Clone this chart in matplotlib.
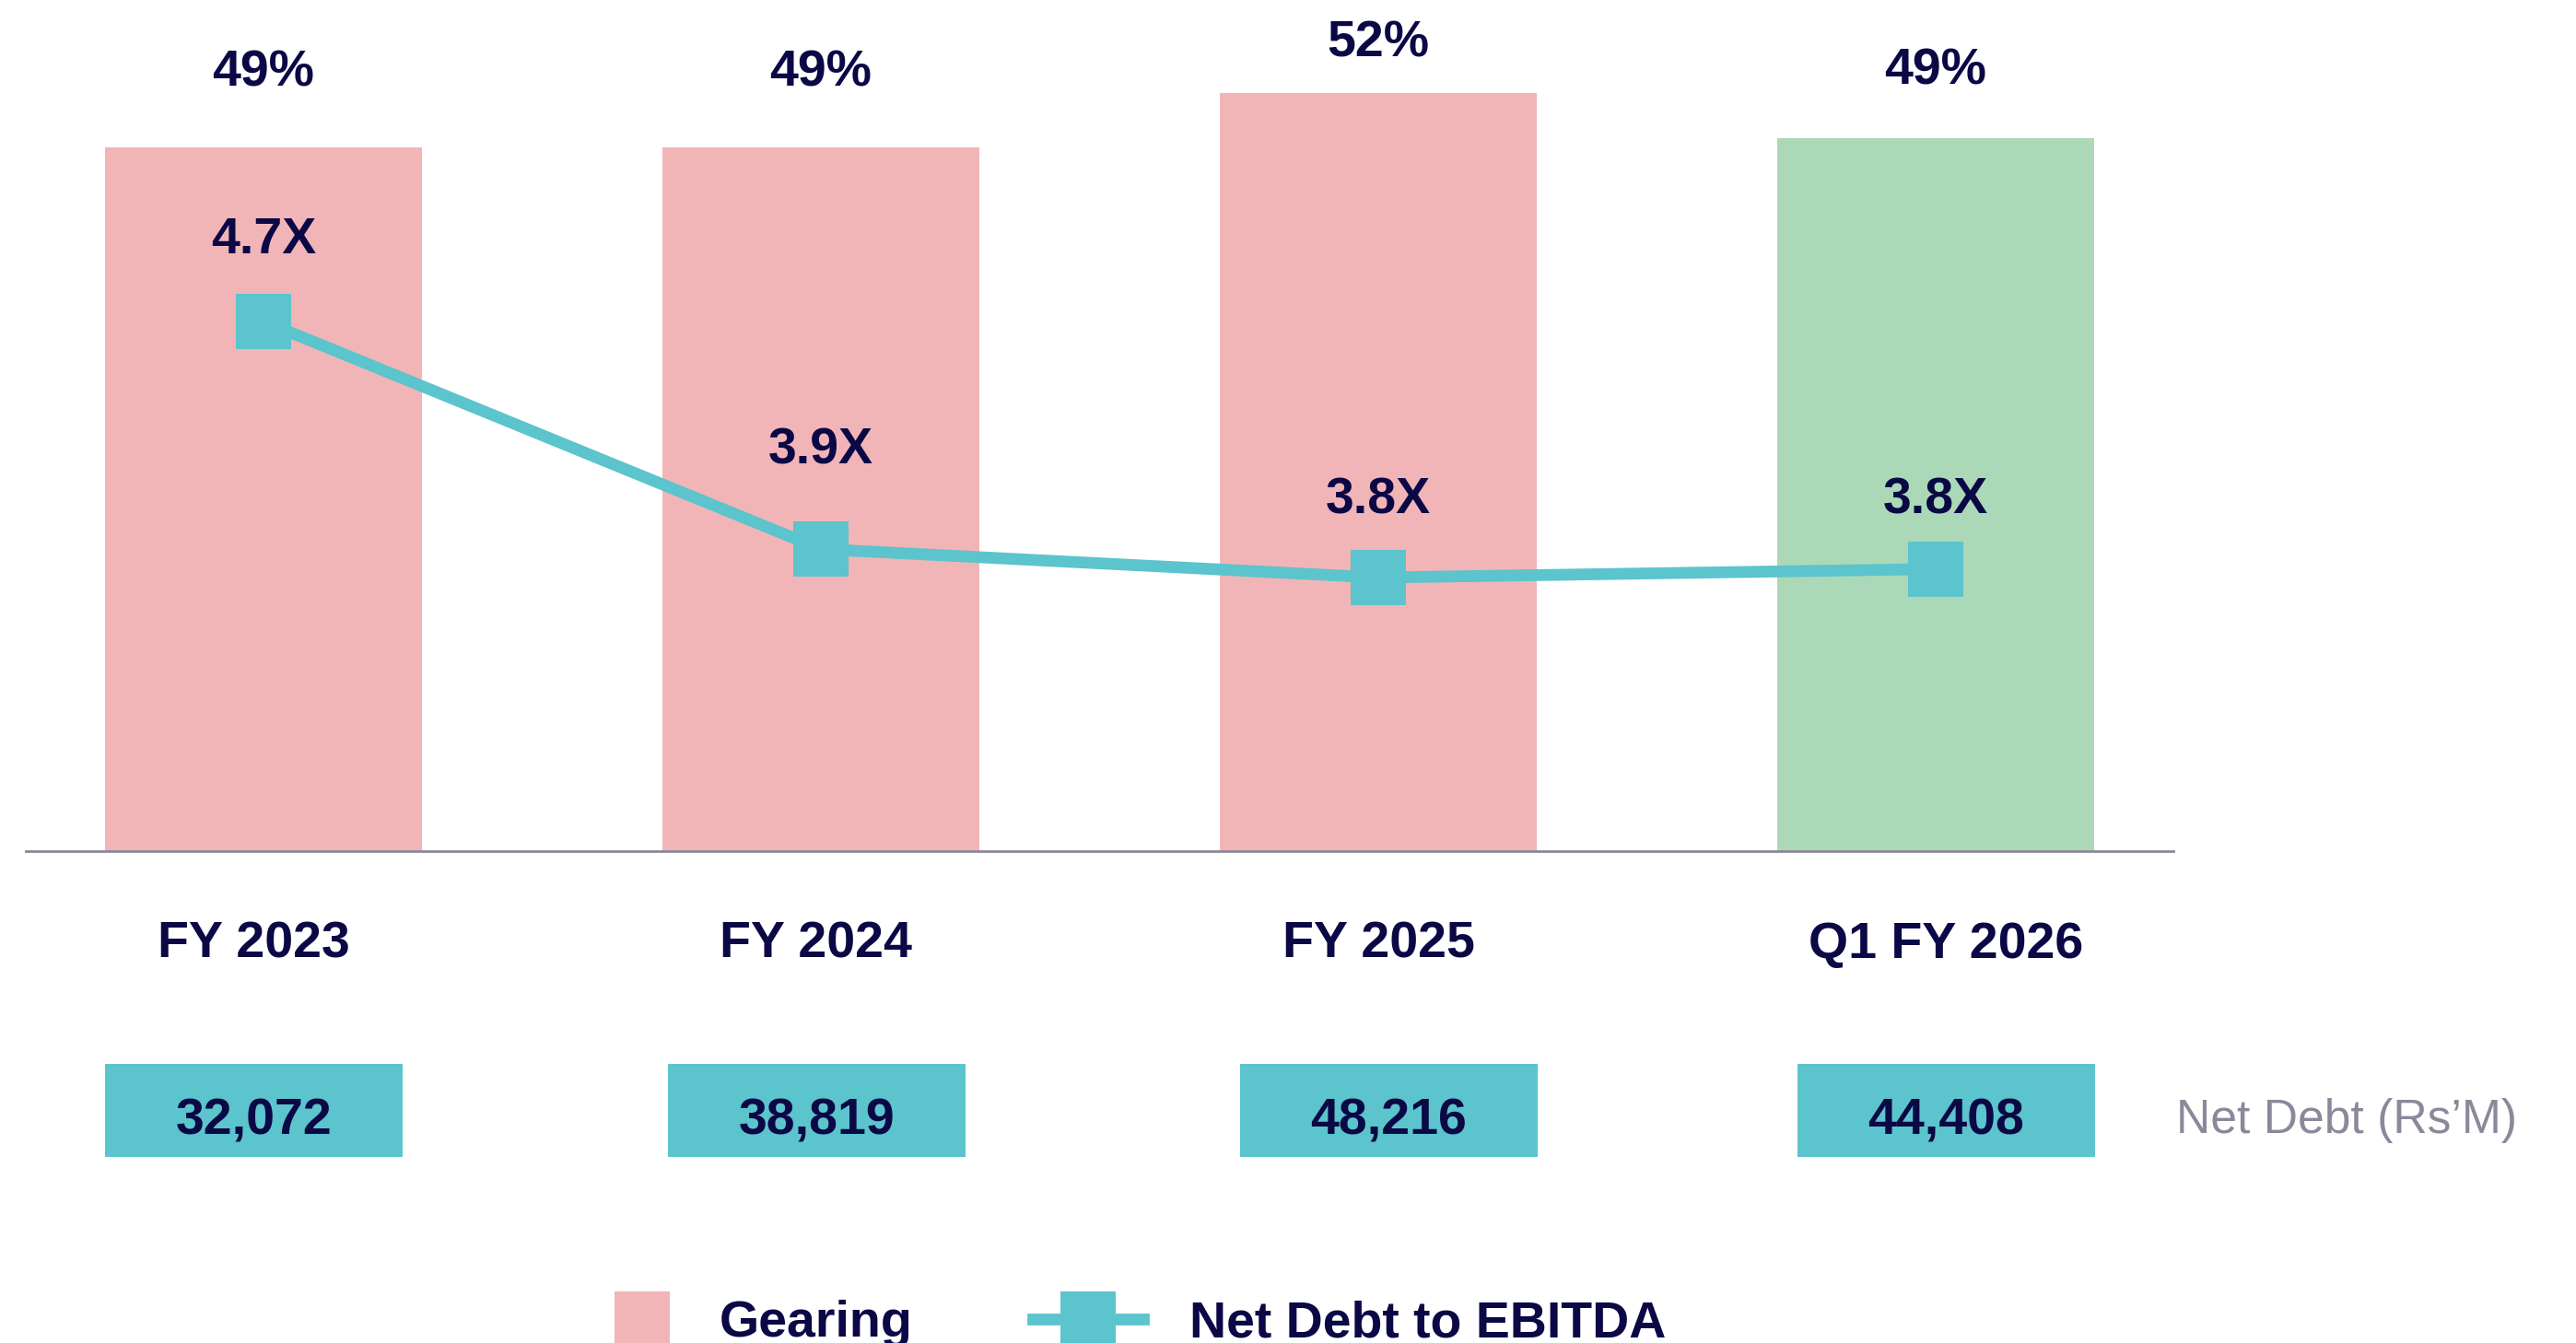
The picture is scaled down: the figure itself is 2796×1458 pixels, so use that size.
import matplotlib
matplotlib.use("Agg")
import matplotlib.pyplot as plt
from matplotlib.patches import Rectangle
from matplotlib.lines import Line2D

# ---------------- data ----------------
categories = ["FY 2023", "FY 2024", "FY 2025", "Q1 FY 2026"]
gearing = [48.3, 48.3, 52.0, 48.9]
gearing_labels = ["49%", "49%", "52%", "49%"]
net_debt_ebitda = [4.7, 3.9, 3.8, 3.83]
ratio_labels = ["4.7X", "3.9X", "3.8X", "3.8X"]
net_debt = [32072, 38819, 48216, 44408]

# ---------------- style ----------------
plt.rcParams['font.family'] = ['Liberation Sans', 'DejaVu Sans']
NAVY = '#0b0846'
PINK = '#f1b5b8'
GREEN = '#abd9b7'
TEAL = '#5bc4cc'
AXIS = '#8a8799'
GREY = '#8c889b'
FS = 20

W, H, DPI = 2796, 1458, 200
fig = plt.figure(figsize=(W / DPI, H / DPI), dpi=DPI)

# layout (pixels)
ax_left_px, ax_right_px, base_px = 28, 2359, 924
unit_px = 605.0
x0_px = 286.0
xlim = ((ax_left_px - x0_px) / unit_px, (ax_right_px - x0_px) / unit_px)
axw = (ax_right_px - ax_left_px) / W

x = list(range(len(categories)))

# ---------------- main axes: bars ----------------
ax = fig.add_axes([ax_left_px / W, 1 - base_px / H, axw, base_px / H])
bar_colors = [PINK, PINK, PINK, GREEN]
ax.bar(x, gearing, width=344 / unit_px, color=bar_colors, zorder=1)
ax.set_xlim(*xlim)
ax.set_ylim(0, 58.38)
for s in ['top', 'left', 'right']:
    ax.spines[s].set_visible(False)
ax.spines['bottom'].set_color(AXIS)
ax.spines['bottom'].set_linewidth(1.0)
ax.set_xticks([])
ax.set_yticks([])

gear_label_rows = [93, 93, 62, 92]
for i, lab in enumerate(gearing_labels):
    ax.text(x[i], 1 - gear_label_rows[i] / base_px, lab,
            transform=ax.get_xaxis_transform(), ha='center', va='baseline',
            fontsize=FS, fontweight='bold', color=NAVY)

# ---------------- twin axes: ratio line ----------------
axr = ax.twinx()
axr.plot(x, net_debt_ebitda, color=TEAL, lw=4.6, marker='s', ms=21.6, mew=0,
         solid_joinstyle='miter', zorder=3)
axr.set_ylim(2.839, 5.829)
for s in axr.spines.values():
    s.set_visible(False)
axr.set_yticks([])

ratio_label_rows = [275, 504, 558, 558]
for i, lab in enumerate(ratio_labels):
    axr.text(x[i], 1 - ratio_label_rows[i] / base_px, lab,
             transform=axr.get_xaxis_transform(), ha='center', va='baseline',
             fontsize=FS, fontweight='bold', color=NAVY)

# ---------------- bottom axes: categories + net debt table ----------------
axb = fig.add_axes([ax_left_px / W, 0, axw, (H - base_px) / H])
axb.set_xlim(*xlim)
axb.set_ylim(H, base_px)   # rows measured from top of figure
axb.axis('off')

cat_dx = [-0.018, -0.010, 0.0, 0.018]
box_dx = [-0.017, -0.008, 0.019, 0.019]
box_w = 323 / unit_px
for i, cat in enumerate(categories):
    axb.text(x[i] + cat_dx[i], 1040, cat, ha='center', va='baseline',
             fontsize=FS, fontweight='bold', color=NAVY)
    axb.add_patch(Rectangle((x[i] + box_dx[i] - box_w / 2, 1155), box_w, 101,
                            facecolor=TEAL, edgecolor='none', clip_on=False))
    axb.text(x[i] + box_dx[i], 1232, f"{net_debt[i]:,}", ha='center', va='baseline',
             fontsize=FS, fontweight='bold', color=NAVY)

axb.text((2362 - x0_px) / unit_px, 1230, "Net Debt (Rs\u2019M)", ha='left', va='baseline',
         fontsize=18.6, color=GREY, clip_on=False)

# ---------------- legend ----------------
em = FS * DPI / 72.0
h1 = Line2D([], [], ls='none', marker='s', ms=21.6, mew=0, color=PINK)
h2 = Line2D([], [], color=TEAL, lw=4.6, marker='s', ms=21.6, mew=0)
fig.legend([h1], ['Gearing'], loc='center left', bbox_to_anchor=(667 / W, 21 / H),
           frameon=False, prop={'size': FS, 'weight': 'bold'}, labelcolor=NAVY,
           handlelength=60 / em, handletextpad=54 / em, borderpad=0, borderaxespad=0)
fig.legend([h2], ['Net Debt to EBITDA'], loc='center left', bbox_to_anchor=(1121 / W, 21 / H),
           frameon=False, prop={'size': FS, 'weight': 'bold'}, labelcolor=NAVY,
           handlelength=120 / em, handletextpad=50 / em, borderpad=0, borderaxespad=0)

fig.savefig("out.png", dpi=DPI, facecolor='white')
